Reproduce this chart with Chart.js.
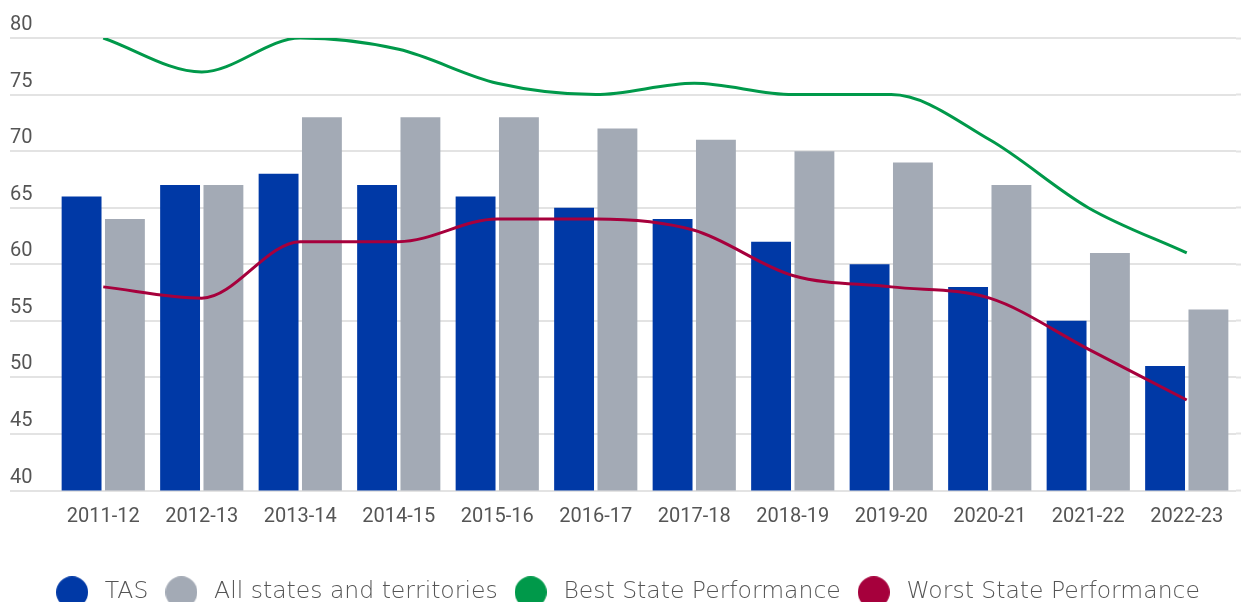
<!DOCTYPE html>
<html>
<head>
<meta charset="utf-8">
<script src="https://cdn.jsdelivr.net/npm/chart.js@4.4.1/dist/chart.umd.min.js"></script>
<style>
  html, body { margin: 0; padding: 0; background: #fff; overflow: hidden; }
  #wrap { position: relative; width: 1251px; height: 614px; }
</style>
</head>
<body>
<div id="wrap"><canvas id="chart"></canvas></div>
<script>
// 年度與各系列數值
const years = ['2011-12', '2012-13', '2013-14', '2014-15', '2015-16', '2016-17',
  '2017-18', '2018-19', '2019-20', '2020-21', '2021-22', '2022-23'];
const tas = [66, 67, 68, 67, 66, 65, 64, 62, 60, 58, 55, 51];
const allStates = [64, 67, 73, 73, 73, 72, 71, 70, 69, 67, 61, 56];
const bestState = [80, 77, 80, 79, 76, 75, 76, 75, 75, 71, 65, 61];
const worstState = [58, 57, 62, 62, 64, 64, 63, 59, 58, 57, 52.5, 48];
const yTicks = [40, 45, 50, 55, 60, 65, 70, 75, 80];

const BLUE = '#0039a6', GREY = '#a3aab5', GREEN = '#00994a', RED = '#a6003c';
const GRID = '#e3e3e3';

// 圖例用的圓點（畫在小 canvas 上）
function dot(color) {
  const c = document.createElement('canvas');
  c.width = 32; c.height = 32;
  const g = c.getContext('2d');
  g.fillStyle = color;
  g.beginPath();
  g.arc(16, 16, 16, 0, Math.PI * 2);
  g.fill();
  return c;
}

// 折線資料集
function lineSet(label, data, color) {
  return {
    type: 'line', label, data,
    borderColor: color, backgroundColor: color,
    borderWidth: 3, pointRadius: 0, pointHoverRadius: 0,
    cubicInterpolationMode: 'monotone',
    fill: false, order: 0
  };
}

new Chart(document.getElementById('chart'), {
  type: 'bar',
  data: {
    labels: years,
    datasets: [
      { label: 'TAS', data: tas, backgroundColor: BLUE, borderWidth: 0, order: 1 },
      { label: 'All states and territories', data: allStates, backgroundColor: GREY, borderWidth: 0, order: 1 },
      lineSet('Best State Performance', bestState, GREEN),
      lineSet('Worst State Performance', worstState, RED)
    ]
  },
  options: {
    responsive: true,
    maintainAspectRatio: false,
    animation: false,
    layout: { padding: { left: 10, right: 10, top: 38, bottom: 0 } },
    datasets: { bar: { categoryPercentage: 0.88, barPercentage: 0.92 } },
    scales: {
      x: {
        grid: { display: false, drawTicks: false },
        border: { display: false },
        ticks: { color: '#555', font: { family: 'Roboto', size: 20 }, padding: 14, maxRotation: 0, autoSkip: false },
        afterFit: s => { s.height = 78; }
      },
      y: {
        min: 40, max: 80,
        afterBuildTicks: s => { s.ticks = yTicks.map(v => ({ value: v })); },
        grid: { color: GRID, lineWidth: 2, tickLength: 44, tickColor: GRID, tickWidth: 2 },
        border: { display: false },
        ticks: { color: '#555', font: { family: 'Roboto', size: 20 }, crossAlign: 'far', labelOffset: -13, padding: 0 },
        afterFit: s => { s.width = 44; }
      },
      // 右側短刻度，讓格線略微延伸
      yEdge: {
        position: 'right', min: 40, max: 80,
        afterBuildTicks: s => { s.ticks = yTicks.map(v => ({ value: v })); },
        grid: { drawOnChartArea: false, tickLength: 5, tickColor: GRID, tickWidth: 2 },
        border: { display: false },
        ticks: { display: false },
        afterFit: s => { s.width = 5; }
      }
    },
    plugins: {
      tooltip: { enabled: false },
      legend: {
        position: 'bottom',
        labels: {
          usePointStyle: true,
          pointStyleWidth: 42,
          boxHeight: 23,
          padding: 12,
          color: '#555',
          font: { family: 'DejaVu Sans', size: 23.5, weight: '200' },
          sort: (a, b) => a.datasetIndex - b.datasetIndex,
          generateLabels: chart => Chart.defaults.plugins.legend.labels.generateLabels(chart)
            .map(l => Object.assign(l, { lineWidth: 0, pointStyle: dot(l.fillStyle) }))
        }
      }
    }
  }
});
</script>
</body>
</html>
